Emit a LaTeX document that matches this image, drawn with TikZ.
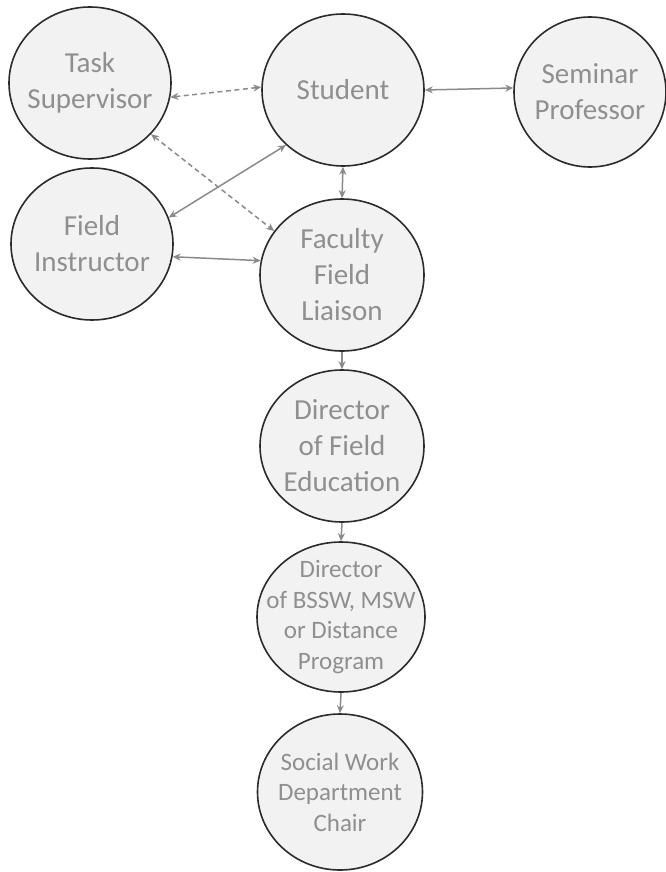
\documentclass[tikz,border=0pt]{standalone}
\usepackage{fontspec}
\setmainfont{Carlito}
\usetikzlibrary{shapes.geometric,arrows.meta}

\definecolor{bubfill}{HTML}{F2F2F2}
\definecolor{bubline}{HTML}{2B2B2B}
\definecolor{bubtxt}{HTML}{8F8F8F}
\definecolor{linkgray}{HTML}{8A8A8A}

\tikzset{
    bubble/.style={ellipse, draw=bubline, fill=bubfill, line width=1.6pt,
        minimum width=162pt, minimum height=152pt, inner sep=0pt},
    bubtext/.style={text=bubtxt, align=center, inner sep=0pt,
        font=\fontsize{29}{36}\selectfont},
    smalltext/.style={bubtext, font=\fontsize{25}{30.5}\selectfont},
    link/.style={draw=linkgray, line width=1.5pt,
        {Stealth[length=8pt,width=7pt]}-{Stealth[length=8pt,width=7pt]}},
    oneway/.style={link, -{Stealth[length=8pt,width=7pt]}},
    dashlink/.style={link, dash pattern=on 5pt off 3.5pt}
}

\begin{document}
\begin{tikzpicture}[x=1pt, y=-1pt]
        \useasboundingbox (0,0) rectangle (666,872);

        % top row and left column
        \node[bubble, label={[bubtext]center:Task\\Supervisor}] (task) at (90,83) {};
        \node[bubble, label={[bubtext]center:Student}] (student) at (343,90) {};
        \node[bubble, minimum width=152pt, minimum height=150pt,
              label={[bubtext]center:Seminar\\Professor}] (seminar) at (590,92) {};
        \node[bubble, label={[bubtext]center:Field\\Instructor}] (instructor) at (92,244) {};

        % chain down the middle
        \node[bubble, minimum width=164pt, label={[bubtext]center:Faculty\\Field\\Liaison}] (liaison) at (342,275) {};
        \node[bubble, minimum width=164pt, label={[bubtext]center:Director\\of Field\\Education}] (fieldedu) at (342,446) {};
        \node[bubble, minimum width=168pt, minimum height=150pt,
              label={[smalltext]center:Director\\of BSSW, MSW\\or Distance\\Program}] (program) at (341,617) {};
        \node[bubble, minimum width=165pt, minimum height=156pt,
              label={[smalltext]center:Social Work\\Department\\Chair}] (chair) at (340,792) {};

        % two-way links
        \draw[dashlink] (task.-10) -- (student.178);
        \draw[dashlink] (task.-40) -- (liaison.147);
        \draw[link] (student.-136) -- (instructor.19);
        \draw[link] (instructor.-9) -- (liaison.170);
        \draw[link] (student.south) -- (liaison.north);
        \draw[link] (student.east) -- (seminar.177);

        % one-way links down the chain
        \foreach \a/\b in {liaison/fieldedu, fieldedu/program, program/chair} {
            \draw[oneway] (\a.south) -- (\b.north);
        }
    \end{tikzpicture}
\end{document}
